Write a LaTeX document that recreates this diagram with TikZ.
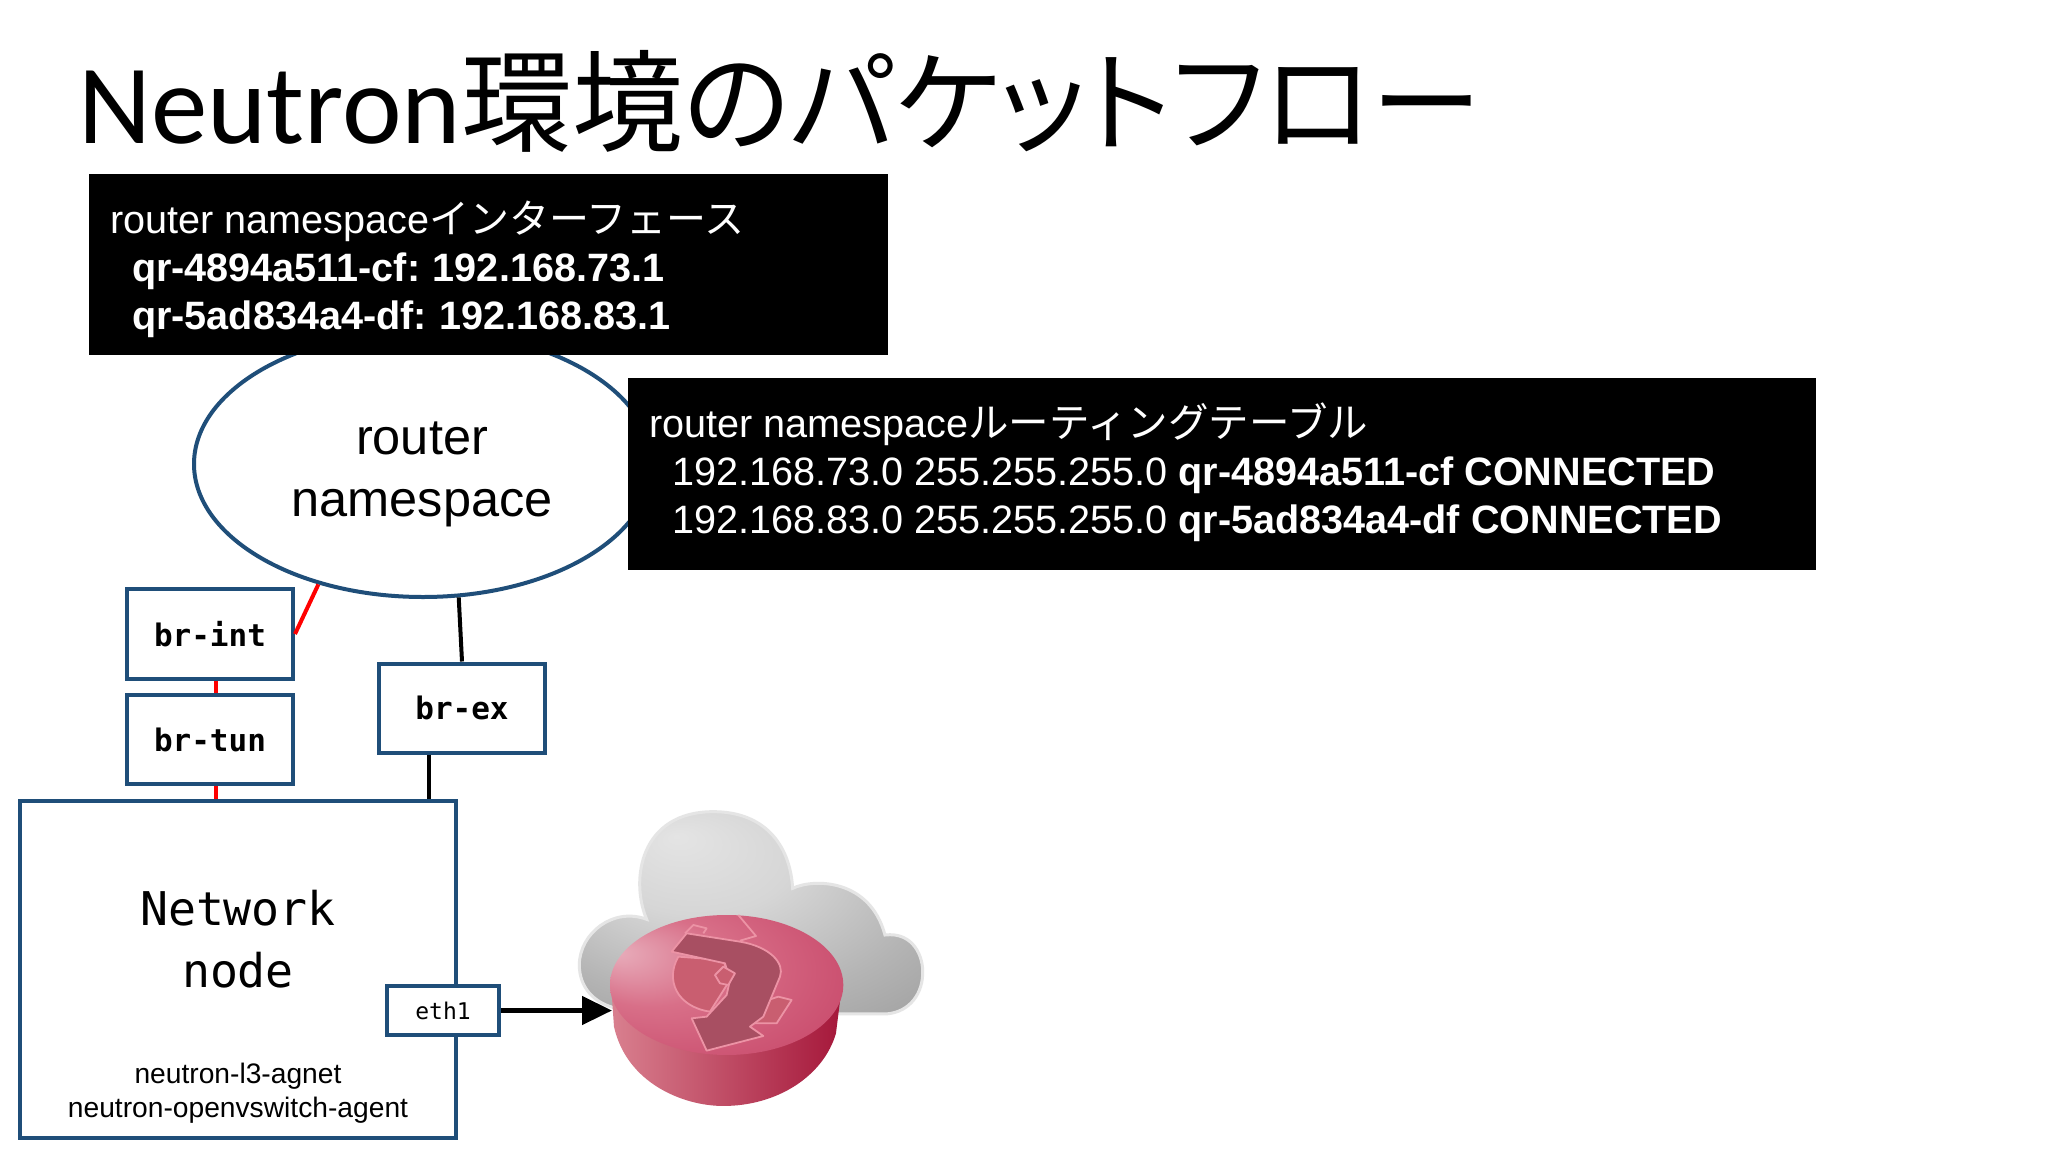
\documentclass[tikz,border=0pt]{standalone}
\usepackage{fontspec}
\setmainfont{Liberation Sans}
\newfontfamily\cjk{Noto Sans CJK JP}
\newfontfamily\cjkt[RawFeature=+palt]{Noto Sans CJK JP}
\newfontfamily\carl{Carlito}
\newfontfamily\monof{DejaVu Sans Mono}
\usetikzlibrary{shapes.geometric,arrows.meta}
\definecolor{bluebd}{HTML}{1F4E79}
\definecolor{cA}{HTML}{E4E4E4}\definecolor{cB}{HTML}{D6D6D6}\definecolor{cC}{HTML}{B4B4B4}\definecolor{cD}{HTML}{979797}
\definecolor{tA}{HTML}{E8ADBB}\definecolor{tB}{HTML}{D86F88}\definecolor{tC}{HTML}{CB5070}\definecolor{tD}{HTML}{B93358}
\definecolor{rL}{HTML}{D9808F}\definecolor{rM}{HTML}{C04F6B}\definecolor{rR}{HTML}{A5173A}
\definecolor{symdark}{HTML}{A84F62}\definecolor{symlight}{HTML}{C95E70}\definecolor{symline}{HTML}{EC93A5}
\newcommand{\fs}[1]{\fontsize{#1}{#1}\selectfont}
\pgfdeclareradialshading{cloudsh}{\pgfpoint{-11bp}{19bp}}{
 color(0bp)=(cA); color(14bp)=(cB); color(30bp)=(cC); color(46bp)=(cD); color(50bp)=(cD)}
\pgfdeclareradialshading{topsh}{\pgfpoint{-24bp}{12bp}}{
 color(0bp)=(tA); color(16bp)=(tB); color(34bp)=(tC); color(50bp)=(tD)}
\tikzset{
 bluebox/.style={draw=bluebd,line width=4pt,fill=white,inner sep=0pt,align=center},
 blackbox/.style={fill=black,draw=none,inner sep=0pt},
 whitetxt/.style={text=white,anchor=base west,inner sep=0pt,outer sep=0pt},
 conred/.style={draw=red,line width=4pt},
 conblack/.style={draw=black,line width=4pt},
 sym/.style={draw=symline,line width=1.8pt,line join=round},
}
\begin{document}
\begin{tikzpicture}[x=1pt,y=-1pt]
\useasboundingbox (0,0) rectangle (2048,1152);
\fill[white] (0,0) rectangle (2048,1152);
% title
\node[anchor=base west,inner sep=0pt] (title) at (78,143) {\carl\fs{113}Neutron\cjkt\fs{111}環境のパケットフロー};
% cloud and router
\begin{scope}[shift={(550,800)},x=0.3333pt,y=-0.3333pt]
\path[draw=white!90!black,line width=3pt,shading=cloudsh]
 (200,625) .. controls (130,610) and (88,560) .. (88,495)
 .. controls (88,400) and (190,320) .. (290,358)
 .. controls (240,240) and (270,35) .. (490,35)
 .. controls (640,35) and (720,130) .. (728,265)
 .. controls (790,235) and (960,235) .. (1005,405)
 .. controls (1090,395) and (1122,470) .. (1118,525)
 .. controls (1115,590) and (1070,642) .. (1000,642)
 -- (700,642) -- cycle;
\shade[left color=rL,middle color=rM,right color=rR]
 (182,540) -- (192,680) .. controls (230,850) and (400,918) .. (520,918)
 .. controls (680,918) and (820,830) .. (858,700) -- (878,540) -- cycle;
\path[shading=topsh] (530,555) ellipse [x radius=350,y radius=210];
% symbol
\path[sym,fill=symlight] (385,470) .. controls (345,540) and (380,620) .. (480,635) -- (540,540) -- (520,480) -- cycle;
\path[sym,fill=symlight] (655,600) -- (685,590) -- (725,600) -- (680,670) -- (610,670) -- cycle;
\path[sym] (405,400) -- (430,375) -- (470,385) -- (460,400);
\path[sym] (565,345) -- (618,408) -- (570,422);
\path[sym,fill=symdark] (365,455) -- (410,400) -- (570,425) .. controls (660,440) and (705,490) .. (690,530) -- (640,650) -- (600,680) -- (640,708) -- (470,752) -- (425,655) -- (470,650) -- (530,585) -- (540,540) -- (525,490) -- cycle;
\path[sym,fill=symlight] (495,525) -- (520,500) -- (555,520) -- (535,555) -- (510,550) -- cycle;
\end{scope}
\coordinate (routertip) at (612,1010.5);
% router namespace ellipse
\node[ellipse,draw=bluebd,line width=4pt,fill=white,minimum width=458pt,minimum height=266pt,inner sep=0pt] (router) at (423,464) {};
\node[inner sep=0pt,anchor=base] (routerlbl1) at (422,454) {\fs{50.5}router};
\node[inner sep=0pt,anchor=base] (routerlbl2) at (422,516) {\fs{50.5}namespace};
% black boxes
\node[blackbox,minimum width=799pt,minimum height=181pt] (box1) at (488.5,264.5) {};
\node[whitetxt] (b1a) at (110,233) {\fs{39.6}router namespace\cjk\fs{40}インターフェース};
\node[whitetxt] (b1b) at (132,281) {\fs{39.6}\bfseries qr-4894a511-cf:\hspace{-2pt} 192.168.73.1};
\node[whitetxt] (b1c) at (132,329) {\fs{39.6}\bfseries qr-5ad834a4-df:\hspace{-2pt} 192.168.83.1};
\node[blackbox,minimum width=1188pt,minimum height=192pt] (box2) at (1222,474) {};
\node[whitetxt] (b2a) at (649,437) {\fs{39.6}router namespace\cjk\fs{40.5}ルーティングテーブル};
\node[whitetxt] (b2b) at (672,485) {\fs{39.6}192.168.73.0 255.255.255.0 \bfseries qr-4894a511-cf CONNECTED};
\node[whitetxt] (b2c) at (672,533) {\fs{39.6}192.168.83.0 255.255.255.0 \bfseries qr-5ad834a4-df CONNECTED};
% boxes
\node[bluebox,minimum width=166pt,minimum height=90pt] (brint) at (210,634) {\monof\bfseries\fs{31}br-int};
\node[bluebox,minimum width=166pt,minimum height=89pt] (brtun) at (210,739.5) {\monof\bfseries\fs{31}br-tun};
\node[bluebox,minimum width=166pt,minimum height=89pt] (brex) at (462,708) {\monof\bfseries\fs{31}br-ex};
\node[bluebox,minimum width=436pt,minimum height=337pt] (net) at (238,969.5) {};
\node[inner sep=0pt,anchor=base] (netl1) at (238,925) {\monof\fs{46.5}Network};
\node[inner sep=0pt,anchor=base] (netl2) at (238,987) {\monof\fs{46.5}node};
\node[inner sep=0pt,anchor=base] (agent1) at (238,1083) {\fs{28.2}neutron-l3-agnet};
\node[inner sep=0pt,anchor=base] (agent2) at (238,1117) {\fs{28.2}neutron-openvswitch-agent};
\node[bluebox,minimum width=112pt,minimum height=49pt] (eth) at (443,1010.5) {\monof\fs{23}eth1};
% connectors
\draw[conred] (router.229) -- (brint.east);
\draw[conred] ([xshift=6pt]brint.south) -- ([xshift=6pt]brtun.north);
\draw[conred] ([xshift=6pt]brtun.south) -- ([xshift=6pt]brtun.south |- net.north);
\draw[conblack] (router.285) -- (brex.north);
\draw[conblack] ([xshift=-33pt]brex.south) -- ([xshift=-33pt]brex.south |- net.north);
\draw[draw=black,line width=4.6pt,-{Triangle[length=30pt,width=28pt]}] (eth.east) -- (routertip);
\end{tikzpicture}
\end{document}
